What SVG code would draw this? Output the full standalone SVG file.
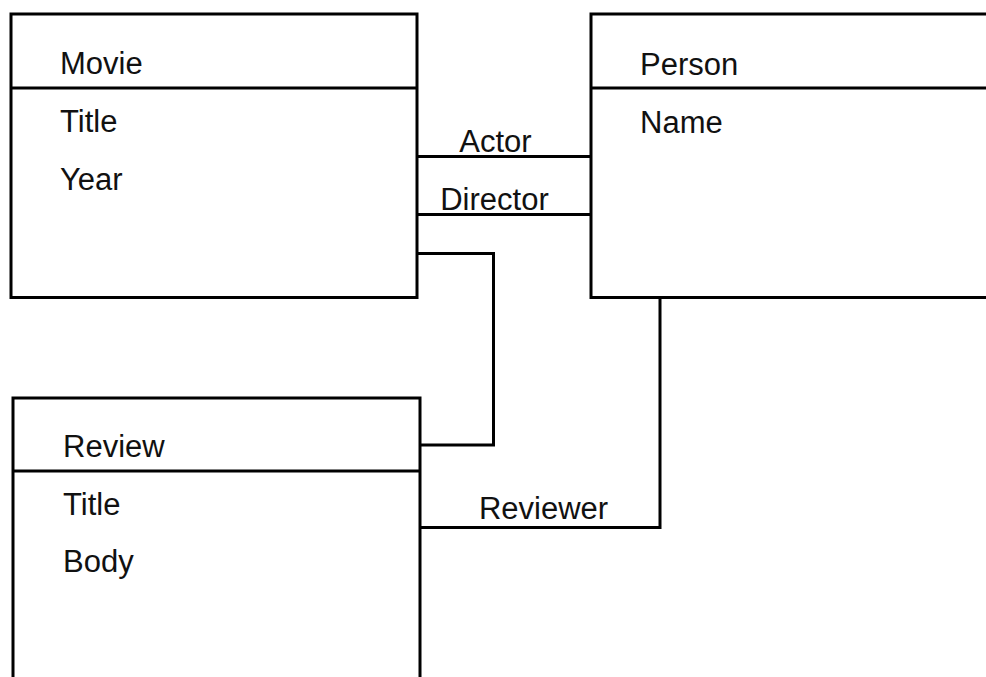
<svg xmlns="http://www.w3.org/2000/svg" width="986" height="677" viewBox="0 0 986 677">
<style>
.box{fill:#fff;stroke:#000;stroke-width:3}
.div{stroke:#000;stroke-width:3}
.con{fill:none;stroke:#000;stroke-width:3}
text{font-family:"Liberation Sans",Arial,sans-serif;font-size:31px;fill:#111}
.lbl{text-anchor:middle}
</style>
<rect width="986" height="677" fill="#fff"/>
<g id="connectors">
<line class="con" x1="417" y1="156.5" x2="591" y2="156.5"/>
<line class="con" x1="417" y1="214.5" x2="591" y2="214.5"/>
<polyline class="con" points="417,253.5 493.5,253.5 493.5,445 420,445"/>
<polyline class="con" points="660,297 660,527.5 420,527.5"/>
<text class="lbl" x="495.5" y="152">Actor</text>
<text class="lbl" x="494.5" y="210">Director</text>
<text class="lbl" x="543.5" y="519">Reviewer</text>
</g>
<g id="movie">
<rect class="box" x="11" y="14" width="406" height="283.5"/>
<line class="div" x1="11" y1="88" x2="417" y2="88"/>
<text x="60" y="74">Movie</text>
<text x="60" y="132">Title</text>
<text x="60" y="190">Year</text>
</g>
<g id="person">
<rect class="box" x="591" y="14" width="420" height="283.5"/>
<line class="div" x1="591" y1="88" x2="1011" y2="88"/>
<text x="640" y="75">Person</text>
<text x="640" y="133">Name</text>
</g>
<g id="review">
<rect class="box" x="13" y="398" width="407" height="300"/>
<line class="div" x1="13" y1="471" x2="420" y2="471"/>
<text x="63" y="457">Review</text>
<text x="63" y="515">Title</text>
<text x="63" y="572">Body</text>
</g>
</svg>
